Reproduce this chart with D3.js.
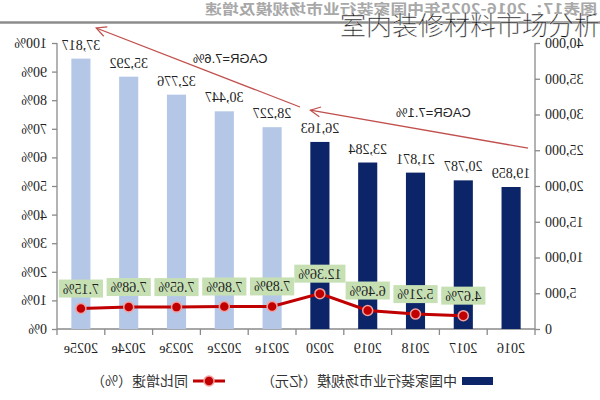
<!DOCTYPE html>
<html><head><meta charset="utf-8">
<script src="https://cdn.jsdelivr.net/npm/d3@7/dist/d3.min.js"></script>
<style>body{margin:0;background:#fff}svg{display:block}</style>
</head><body>
<svg id="chart" width="600" height="400"></svg>
<script>
const categories = ["2016","2017","2018","2019","2020","2021e","2022e","2023e","2024e","2025e"];
const marketSize = [19859,20787,21871,23284,26163,28227,30447,32776,35292,37817];
const growthRate = [null,4.67,5.21,6.46,12.36,7.89,7.86,7.65,7.68,7.15];
const valueTicks = [0,5000,10000,15000,20000,25000,30000,35000,40000];
const pctTicks = [0,10,20,30,40,50,60,70,80,90,100];
const cagrLabels = ["CAGR=7.1%","CAGR=7.6%"];
const titleText = "图表17：2016-2025年中国家装行业市场规模及增速";
const legendLabels = ["中国家装行业市场规模（亿元）","同比增速（%）"];
const watermark = "室内装修材料市场分析";

const svg = d3.select("#chart");
const serif = "'Liberation Serif','Times New Roman',serif";
const cjk = "'Noto Sans CJK SC',sans-serif";

// whole chart is mirrored horizontally, as in the reference
const g = svg.append("g").attr("transform","translate(600,0) scale(-1,1)");

const x = d3.scaleBand().domain(categories).range([65,543]);
const yL = d3.scaleLinear().domain([0,40000]).range([329,43]);
const yR = d3.scaleLinear().domain([0,100]).range([329,43]);

// title + rule
g.append("text").attr("x",3).attr("y",14).text(titleText)
 .attr("textLength",392).attr("lengthAdjust","spacingAndGlyphs")
 .attr("font-family",cjk).attr("font-size",14).attr("font-weight","bold").attr("fill","#a8a8a8");
g.append("line").attr("x1",0).attr("x2",600).attr("y1",22.5).attr("y2",22.5)
 .attr("stroke","#8c8c8c").attr("stroke-width",2.5);

// axes
const axL = g.append("g").attr("transform","translate(65,0)")
  .call(d3.axisLeft(yL).tickValues(valueTicks).tickFormat(d3.format(",")).tickSize(5).tickPadding(5));
const axR = g.append("g").attr("transform","translate(543,0)")
  .call(d3.axisRight(yR).tickValues(pctTicks).tickFormat(d=>d+"%").tickSize(5).tickPadding(5));
[axL,axR].forEach(a=>{
  a.selectAll("path,line").attr("stroke","#8a8a8a").attr("stroke-width",1.3);
  a.selectAll("text").attr("font-family",serif).attr("font-size",14).attr("fill","#222");
});
axL.select("path").attr("d","M0,43V329");
axR.select("path").attr("d","M0,43V329");

// category baseline and ticks between bands
g.append("line").attr("x1",x.range()[0]).attr("x2",x.range()[1]).attr("y1",yL(0)).attr("y2",yL(0))
 .attr("stroke","#8a8a8a").attr("stroke-width",1.3);
const edges = categories.map(c=>x(c)).concat([x.range()[1]]);
g.selectAll(".ctick").data(edges).join("line")
 .attr("x1",d=>d).attr("x2",d=>d).attr("y1",yL(0)).attr("y2",yL(0)+6)
 .attr("stroke","#8a8a8a").attr("stroke-width",1.3);
g.selectAll(".clab").data(categories).join("text")
 .attr("x",d=>x(d)+x.bandwidth()/2).attr("y",353).attr("text-anchor","middle")
 .attr("font-family",serif).attr("font-size",14).attr("fill","#222").text(d=>d);

// bars
const bw = x.bandwidth()*0.4;
g.selectAll(".bar").data(categories).join("rect")
 .attr("x",(d)=>x(d)+x.bandwidth()/2-bw/2).attr("width",bw)
 .attr("y",(d,i)=>yL(marketSize[i])).attr("height",(d,i)=>yL(0)-yL(marketSize[i]))
 .attr("fill",d=>d.endsWith("e")?"#b4c7e7":"#0c2468");
g.selectAll(".vlab").data(categories).join("text")
 .attr("x",d=>x(d)+x.bandwidth()/2).attr("y",(d,i)=>yL(marketSize[i])-9)
 .attr("text-anchor","middle").attr("font-family",serif).attr("font-size",14).attr("fill","#222")
 .text((d,i)=>d3.format(",")(marketSize[i]));

// CAGR arrows
const defs = svg.append("defs");
defs.append("marker").attr("id","arr").attr("viewBox","0 0 12 12").attr("refX",11).attr("refY",6)
 .attr("markerWidth",12).attr("markerHeight",12).attr("markerUnits","userSpaceOnUse").attr("orient","auto")
 .append("path").attr("d","M1,1 L11,6 L1,11").attr("fill","none").attr("stroke","#c0504d").attr("stroke-width",1.2);
const bwid = x.bandwidth();
const arrows = [
  {x1:x.range()[0]+7, y1:yL(25300), x2:x("2020")+0.7*bwid, y2:yL(30600)},
  {x1:x("2021e")-4, y1:yL(31050), x2:x("2025e")+0.18*bwid, y2:yL(42100)}
];
g.selectAll(".arrow").data(arrows).join("line")
 .attr("x1",d=>d.x1).attr("y1",d=>d.y1).attr("x2",d=>d.x2).attr("y2",d=>d.y2)
 .attr("stroke","#c0504d").attr("stroke-width",1.3).attr("marker-end","url(#arr)");
const cagrPos = [{x:x("2018")+6,y:yL(30300)},{x:x("2022e")+18,y:yL(37900)}];
g.selectAll(".cagr").data(cagrLabels).join("text")
 .attr("x",(d,i)=>cagrPos[i].x).attr("y",(d,i)=>cagrPos[i].y+5).attr("text-anchor","middle")
 .attr("font-family","'Liberation Sans',Arial,sans-serif").attr("font-size",13).attr("fill","#222").text(d=>d);

// growth line
const pts = categories.map((c,i)=>({c,v:growthRate[i]})).filter(d=>d.v!=null);
const line = d3.line().x(d=>x(d.c)+x.bandwidth()/2).y(d=>yR(d.v));
g.append("path").datum(pts).attr("d",line).attr("fill","none").attr("stroke","#c00000").attr("stroke-width",3);
g.selectAll(".dot").data(pts).join("circle")
 .attr("cx",d=>x(d.c)+x.bandwidth()/2).attr("cy",d=>yR(d.v)).attr("r",5)
 .attr("fill","#c00000").attr("stroke","#f2a0a0").attr("stroke-width",1.5);
const gl = g.selectAll(".glab").data(pts).join("g")
 .attr("transform",d=>`translate(${x(d.c)+x.bandwidth()/2},${yR(d.v)-20})`);
gl.append("rect").attr("fill","#c6e0b4");
gl.append("text").attr("text-anchor","middle").attr("y",5)
 .attr("font-family",serif).attr("font-size",14).attr("fill","#222").text(d=>d.v.toFixed(2)+"%");
gl.each(function(){
  const t = d3.select(this).select("text").node().getComputedTextLength();
  d3.select(this).select("rect").attr("x",-t/2-4).attr("width",t+8).attr("y",-9).attr("height",18);
});

// legend
g.append("rect").attr("x",107).attr("y",377).attr("width",31).attr("height",8).attr("fill","#0c2468");
g.append("text").attr("x",143).attr("y",386).text(legendLabels[0])
 .attr("font-family",cjk).attr("font-size",14).attr("fill","#333");
g.append("line").attr("x1",375).attr("x2",407).attr("y1",381).attr("y2",381).attr("stroke","#c00000").attr("stroke-width",3);
g.append("circle").attr("cx",391).attr("cy",381).attr("r",5).attr("fill","#c00000").attr("stroke","#f2a0a0").attr("stroke-width",1.5);
g.append("text").attr("x",412).attr("y",386).text(legendLabels[1])
 .attr("font-family",cjk).attr("font-size",14).attr("fill","#333");

// unmirrored overlay text
svg.append("text").attr("x",340).attr("y",35).text(watermark)
 .attr("font-family",cjk).attr("font-size",26).attr("font-weight",300).attr("fill","#111")
 .attr("stroke","#fff").attr("stroke-width",0.3);
</script>
</body></html>
